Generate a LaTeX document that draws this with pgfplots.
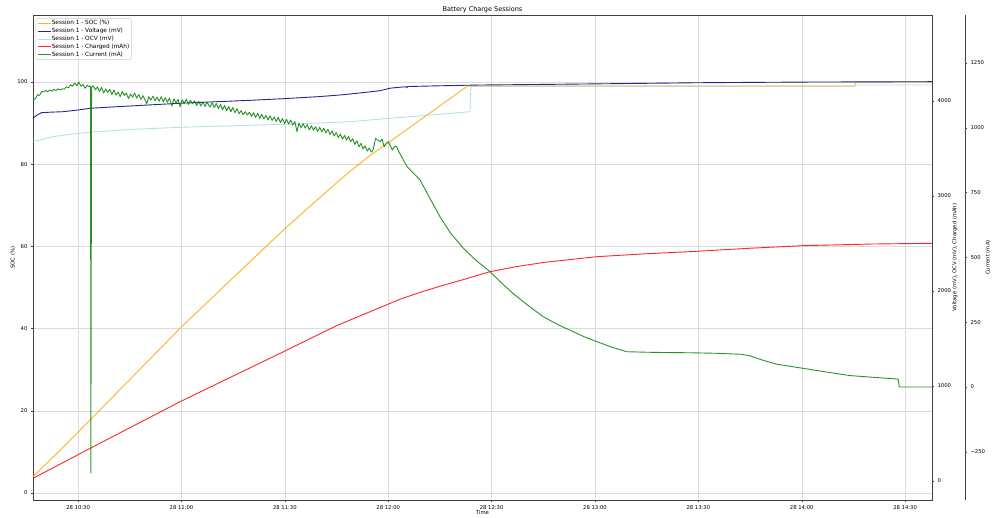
\documentclass[border=0pt]{standalone}
\usepackage{fontspec}
\setmainfont{DejaVu Sans}
\usepackage{pgfplots}
\pgfplotsset{compat=1.18}
\definecolor{cOrange}{HTML}{FFA500}
\definecolor{cNavy}{HTML}{000080}
\definecolor{cLBlue}{HTML}{ADD8E6}
\definecolor{cRed}{HTML}{FF0000}
\definecolor{cGreen}{HTML}{008000}
\definecolor{gridc}{HTML}{DCDCDC}
\pgfplotsset{
 base/.style={scale only axis, width=899pt, height=485pt, xmin=16.9, xmax=277.8,
   at={(0pt,0pt)}, anchor=south west,
   /pgf/number format/assume math mode=true,
   /pgf/number format/1000 sep={},
   tick label style={font=\fontsize{5.3}{6}\selectfont},
   label style={font=\fontsize{5.3}{6}\selectfont},
   axis line style={black!75, line width=0.5pt},
   major tick length=2pt,
   tick style={black!75, line width=0.4pt},
   tick align=outside,
 },
 ser/.style={line width=0.9pt, opacity=0.85, line join=round},
}
\begin{document}
\begin{tikzpicture}
\useasboundingbox (-33pt,-18pt) rectangle (966pt,500pt);
% ---------- SOC axis (left) ----------
\begin{axis}[base, ymin=-1.7, ymax=116.3, ytick={0,20,...,100},
  xtick={30,60,...,270},
  xticklabels={28 10:30,28 11:00,28 11:30,28 12:00,28 12:30,28 13:00,28 13:30,28 14:00,28 14:30},
  tick pos=left,
  grid=major, major grid style={gridc, line width=0.5pt},
  title={Battery Charge Sessions},
  every axis title shift=0pt,
  title style={at={(axis description cs:0.5,1.0103)}, anchor=center, font=\fontsize{6.5}{7.5}\selectfont},
  xlabel={Time},
  xlabel style={at={(axis description cs:0.5,-0.0268)}, anchor=center},
  ylabel={SOC (\%)},
  ylabel style={at={(axis description cs:-0.0222,0.5)}, anchor=center},
]
\addplot[ser, cOrange] coordinates {
(16.9,4.0) (25,10.6) (33.5,17.8) (45,27.6) (59.6,40.1) (75,52.4) (89.6,64.0) (98,70.3) (106,76.2) (109.4,78.6) (115,82.3) (120.5,85.5) (130,91.2) (136,94.8) (142.8,98.9) (143,99) (255.4,99) (255.6,100) (277.8,100)
};
\end{axis}
% ---------- Voltage / OCV / Charged axis (right) ----------
\begin{axis}[base, ymin=-200, ymax=4905, ytick={0,1000,...,4000},
  hide x axis, axis y line*=right,
  ylabel={Voltage (mV), OCV (mV), Charged (mAh)},
  ylabel style={at={(axis description cs:1.0256,0.5)}, anchor=center, rotate=0},
]
\addplot[ser, cNavy] coordinates {
(16.9,3818) (18,3850) (19.4,3877) (22,3882) (25.6,3887) (30,3905) (33.5,3923) (40,3937) (50,3957) (59.6,3976) (70,3992) (80,4007) (90,4025) (100,4046) (106,4063) (112,4085) (117.6,4108) (120.5,4134) (122,4140) (125.2,4150) (125.4,4138) (125.6,4152) (135,4160) (146.6,4168) (170,4176) (210,4192) (240,4199) (278,4203)
};
\addplot[ser, cLBlue] coordinates {
(16.9,3572) (19,3590) (22.5,3624) (28,3650) (33.5,3671) (45,3700) (59.6,3723) (80,3744) (95,3760) (109,3782) (120.5,3818) (130,3845) (143.7,3887) (144.0,4155) (255,4158) (255.6,4168) (277.8,4168)
};
\addplot[ser, cRed] coordinates {
(16.9,28) (33.5,344) (59.6,835) (89.6,1361) (105,1635) (123.4,1913) (129.2,1985) (135,2050) (141.8,2120) (149.5,2203) (157,2255) (165,2300) (180.5,2361) (195,2392) (207.6,2414) (225,2450) (240.4,2477) (260,2494) (277.8,2502)
};
\end{axis}
% ---------- Current axis (data) ----------
\begin{axis}[base, ymin=-436, ymax=1435, hide x axis, hide y axis,
  legend style={at={(axis description cs:0.003,0.9935)}, anchor=north west,
    draw=black!20, rounded corners=1.5pt, fill=white, fill opacity=0.8, text opacity=1,
    font=\fontsize{5.8}{7}\selectfont, inner sep=1.2pt, row sep=0.6pt,
    nodes={inner sep=0.8pt, text height=4.4pt, text depth=1.3pt},
    cells={anchor=west}},
  legend image code/.code={\draw[#1] (0pt,0pt) -- (13pt,0pt);},
]
\addlegendimage{ser, cOrange}\addlegendentry{Session 1 - SOC (\%)}
\addlegendimage{ser, cNavy}\addlegendentry{Session 1 - Voltage (mV)}
\addlegendimage{ser, cLBlue}\addlegendentry{Session 1 - OCV (mV)}
\addlegendimage{ser, cRed}\addlegendentry{Session 1 - Charged (mAh)}
\addplot[ser, cGreen] coordinates {
(16.9,1107) (17.6,1112) (18.2,1128) (18.8,1124) (19.4,1140) (20.0,1138) (20.6,1144) (21.2,1139) (21.8,1146) (22.4,1141) (23.0,1148) (23.6,1144) (24.2,1150) (24.8,1146) (25.4,1150) (26.0,1149) (26.6,1158) (27.2,1154) (27.8,1166) (28.4,1160) (29.0,1172) (29.6,1162) (30.2,1176) (30.8,1160) (31.4,1168) (32.0,1152) (32.6,1164) (33.2,1158) (33.6,1160) (33.7,-332) (33.9,1155) (34.4,1162) (35.0,1146) (35.6,1158) (36.2,1140) (36.8,1156) (37.4,1134) (38.0,1150) (38.6,1136) (39.2,1148) (39.8,1128) (40.4,1146) (41.0,1126) (41.6,1138) (42.2,1120) (42.8,1140) (43.4,1124) (44.0,1134) (44.6,1112) (45.2,1130) (45.8,1118) (46.4,1134) (47.0,1114) (47.6,1128) (48.2,1110) (48.8,1124) (49.4,1108) (49.9,1092) (50.5,1120) (51.1,1106) (51.7,1122) (52.3,1104) (52.9,1118) (53.5,1102) (54.1,1120) (54.7,1100) (55.3,1116) (55.9,1098) (56.5,1114) (57.2,1084) (57.8,1112) (58.4,1096) (59.0,1110) (59.6,1081) (60.2,1108) (60.8,1094) (61.4,1110) (62.0,1090) (62.6,1106) (63.2,1092) (63.8,1104) (64.4,1086) (65.0,1102) (65.6,1084) (66.2,1100) (66.8,1082) (67.4,1098) (68.3,1080) (68.9,1096) (69.5,1078) (70.1,1094) (70.7,1074) (71.3,1090) (71.9,1070) (72.5,1086) (73.1,1066) (73.7,1082) (74.3,1062) (74.9,1078) (75.5,1058) (76.1,1074) (76.7,1054) (77.3,1066) (77.9,1050) (78.5,1062) (79.1,1049) (79.7,1060) (80.3,1044) (80.9,1058) (81.5,1040) (82.1,1056) (82.7,1036) (83.3,1052) (83.9,1034) (84.5,1048) (85.1,1030) (85.7,1046) (86.3,1028) (86.9,1042) (87.5,1024) (88.1,1040) (88.7,1020) (89.3,1036) (89.9,1016) (90.5,1032) (91.1,1014) (91.7,1030) (92.3,1010) (92.9,1024) (93.5,985) (94.1,1018) (94.7,1000) (95.3,1016) (95.9,998) (96.5,1012) (97.1,992) (97.7,1008) (98.3,990) (98.9,1004) (99.5,986) (100.1,1002) (100.7,984) (101.3,998) (101.9,980) (102.5,994) (103.1,974) (103.7,988) (104.3,968) (104.9,982) (105.5,962) (106.1,976) (106.7,956) (107.3,970) (107.9,952) (108.5,966) (109.1,946) (109.7,958) (110.3,936) (110.9,950) (111.5,926) (112.1,940) (112.7,918) (113.3,930) (113.9,910) (114.5,922) (115.1,906) (115.6,914) (116.3,959) (117.0,952) (117.6,946) (118.2,956) (118.8,927) (119.4,940) (120.0,946) (120.6,930) (121.2,914) (121.8,928) (122.4,927) (123.0,910) (123.6,895) (124.2,880) (124.8,865) (125.5,850) (126.2,840) (126.9,830)
(129.2,799) (132,730) (135,657) (138,595) (141.8,535) (145.5,488) (149.5,445) (152.8,402) (156.2,361) (160.5,315) (165,271) (169.3,240) (173.7,213) (177,193) (180.5,175) (184.8,154) (189.2,136) (195,134) (200,133) (207.6,132) (215,130) (222.6,126) (225,120) (228.5,104) (232.7,88) (236.5,80) (240.4,72) (247,58) (254,44) (260,38) (267.5,31) (268.0,30) (268.3,0) (277.8,0)
};
\addlegendentry{Session 1 - Current (mA)}
\end{axis}
% ---------- Current axis scale (offset spine) ----------
\begin{axis}[scale only axis, width=10pt, height=485pt, at={(922pt,0pt)}, anchor=south west,
  xmin=0, xmax=1, ymin=-436, ymax=1435,
  hide x axis, axis y line*=right,
  ytick={-250,0,250,500,750,1000,1250},
  yticklabels={−250,0,250,500,750,1000,1250},
  tick label style={font=\fontsize{5.3}{6}\selectfont},
  label style={font=\fontsize{5.3}{6}\selectfont},
  axis line style={black!75, line width=0.5pt},
  major tick length=2pt,
  tick style={black!75, line width=0.4pt},
  tick align=outside,
  ylabel={Current (mA)},
  ylabel style={at={(axis description cs:3.3,0.5)}, anchor=center},
]
\end{axis}
\end{tikzpicture}
\end{document}
